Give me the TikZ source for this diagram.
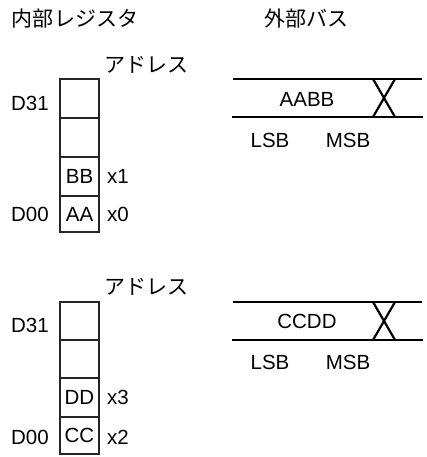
\documentclass[tikz,border=0pt]{standalone}
\usepackage{fontspec}
\setmainfont{Liberation Sans}
\newfontfamily\jpfont{Noto Sans CJK JP}
\begin{document}
\begin{tikzpicture}[x=1pt,y=-1pt,
  cell/.style={draw=black!85, line width=2.2pt, minimum width=39pt, inner sep=0pt, anchor=center, font=\fontsize{20.5}{24}\selectfont},
  lbl/.style={inner sep=0pt, anchor=center, font=\fontsize{20.5}{24}\selectfont},
  jlbl/.style={inner sep=0pt, anchor=center, font=\fontsize{21}{25}\selectfont\jpfont},
  busline/.style={line width=2.2pt, black}
]
\useasboundingbox (0,0) rectangle (427,457);
% titles
\node[jlbl] (t1) at (75,19) {内部レジスタ};
\node[jlbl] (t2) at (306,19) {外部バス};
% ---------- top group ----------
\node[jlbl] (ad1) at (146,65) {アドレス};
\node[cell, minimum height=39pt] (c13) at (79.5,98.5) {};
\node[cell, minimum height=39pt] (c12) at (79.5,137.5) {};
\node[cell, minimum height=39pt] (c11) at (79.5,176.5) {BB};
\node[cell, minimum height=36pt] (c10) at (79.5,214) {AA};
\node[lbl] (d31a) at (30,103) {D31};
\node[lbl] (d00a) at (30,214) {D00};
\node[lbl] (x1) at (118,176) {x1};
\node[lbl] (x0) at (118,214) {x0};
\coordinate (ua1) at (233,79);
\coordinate (ua2) at (422,79);
\coordinate (la1) at (232,117);
\coordinate (la2) at (423,117);
\coordinate (xa1) at (373,79);
\coordinate (xa2) at (395,79);
\coordinate (xa3) at (373,117);
\coordinate (xa4) at (395,117);
\draw[busline] (ua1) -- (ua2);
\draw[busline] (la1) -- (la2);
\draw[busline] (xa1) -- (xa4);
\draw[busline] (xa2) -- (xa3);
\node[lbl] (aabb) at (307,99) {AABB};
\node[lbl] (lsba) at (270,140) {LSB};
\node[lbl] (msba) at (348,140) {MSB};
% ---------- bottom group ----------
\node[jlbl] (ad2) at (146,287) {アドレス};
\node[cell, minimum height=38pt] (c23) at (79.5,321) {};
\node[cell, minimum height=38pt] (c22) at (79.5,359) {};
\node[cell, minimum height=39pt] (c21) at (79.5,397.5) {DD};
\node[cell, minimum height=37pt] (c20) at (79.5,435.5) {CC};
\node[lbl] (d31b) at (30,325) {D31};
\node[lbl] (d00b) at (30,437) {D00};
\node[lbl] (x3) at (118,397) {x3};
\node[lbl] (x2) at (118,437) {x2};
\coordinate (ub1) at (233,302);
\coordinate (ub2) at (422,302);
\coordinate (lb1) at (232,340);
\coordinate (lb2) at (423,340);
\coordinate (xb1) at (373,302);
\coordinate (xb2) at (395,302);
\coordinate (xb3) at (373,340);
\coordinate (xb4) at (395,340);
\draw[busline] (ub1) -- (ub2);
\draw[busline] (lb1) -- (lb2);
\draw[busline] (xb1) -- (xb4);
\draw[busline] (xb2) -- (xb3);
\node[lbl] (ccdd) at (307,321) {CCDD};
\node[lbl] (lsbb) at (270,362) {LSB};
\node[lbl] (msbb) at (348,362) {MSB};
\end{tikzpicture}
\end{document}
